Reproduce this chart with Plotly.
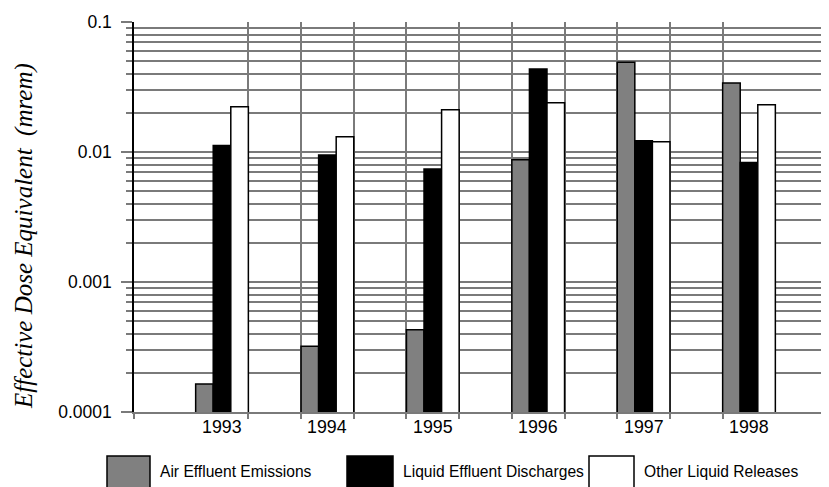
import plotly.graph_objects as go

years = [1993, 1994, 1995, 1996, 1997, 1998]
air = [0.000164, 0.00032, 0.00043, 0.0087, 0.049, 0.034]
liquid = [0.0112, 0.0095, 0.0074, 0.0435, 0.0122, 0.0083]
other = [0.0223, 0.0131, 0.0211, 0.0239, 0.0120, 0.0231]
series_names = ["Air Effluent Emissions", "Liquid Effluent Discharges", "Other Liquid Releases"]
series_colors = ["#808080", "#000000", "#ffffff"]
y_tick_vals = [0.0001, 0.001, 0.01, 0.1]
y_tick_text = ["0.0001", "0.001", "0.01", "0.1"]

GRID = "#7a7a7a"
x0, x1 = years[0] - 0.835, years[0] + 5.759

fig = go.Figure()
for name, vals, col in zip(series_names, [air, liquid, other], series_colors):
    fig.add_trace(go.Bar(x=years, y=vals, name=name, marker=dict(color=col, line=dict(color="black", width=1.5)),
                         showlegend=False))

minor_vals = [k * 10 ** e for e in (-4, -3, -2) for k in range(2, 10)]
vgrid = [x0] + [years[0] + 0.25 + 0.5 * k for k in range(10)]

fig.update_layout(
    width=821, height=479,
    margin=dict(l=126, r=0, t=14, b=75),
    paper_bgcolor="white", plot_bgcolor="white",
    barmode="group", bargap=0.5, bargroupgap=0,
    font=dict(family="Liberation Sans, Arial", color="black"),
    xaxis=dict(range=[x0, x1], tickvals=vgrid, showticklabels=False,
               ticks="outside", ticklen=5, tickcolor=GRID, tickwidth=1.5,
               showgrid=True, gridcolor=GRID, gridwidth=2.2,
               showline=True, linecolor=GRID, linewidth=2, zeroline=False),
    yaxis=dict(type="log", range=[-4, -1], tickvals=y_tick_vals, ticktext=y_tick_text,
               ticks="outside", ticklen=11, tickcolor=GRID, tickwidth=2, ticklabelstandoff=6,
               showgrid=True, gridcolor=GRID, gridwidth=2.2, showline=True, linecolor="black", linewidth=1.5,
               tickfont=dict(size=17.5), zeroline=False,
               minor=dict(tickvals=minor_vals, ticks="outside", ticklen=6, tickcolor=GRID, tickwidth=2,
                          showgrid=True, gridcolor=GRID, gridwidth=2.2)),
)

for yr in years:
    fig.add_annotation(text=str(yr), x=yr, xref="x", yref="paper", y=(412 - 427) / 390,
                       xanchor="center", yanchor="middle", showarrow=False,
                       font=dict(size=17.8, color="black"))

fig.add_annotation(text="Effective Dose Equivalent\u00a0\u00a0(mrem)", xref="paper", yref="paper",
                   x=(24 - 134) / 695, y=(412 - 236) / 390, textangle=-90, showarrow=False,
                   xanchor="center", yanchor="middle",
                   font=dict(family="Liberation Serif, Times New Roman", size=25, color="black", style="italic"))

# legend drawn as swatches + labels below plot
legend_x = [(107, 150, 158), (347, 393, 401), (589, 634, 642)]
for (a, b, t), name, col in zip(legend_x, series_names, series_colors):
    fig.add_shape(type="rect", xref="paper", yref="paper", x0=(a - 134) / 695, x1=(b - 134) / 695,
                  y0=(412 - 500) / 390, y1=(412 - 456) / 390, fillcolor=col, line=dict(color="black", width=1.5))
    fig.add_annotation(text=name, xref="paper", yref="paper", x=(t - 134) / 695, y=(412 - 472) / 390,
                       xanchor="left", yanchor="middle", showarrow=False, font=dict(size=15.6, color="black"))

fig.write_html("out.html")
